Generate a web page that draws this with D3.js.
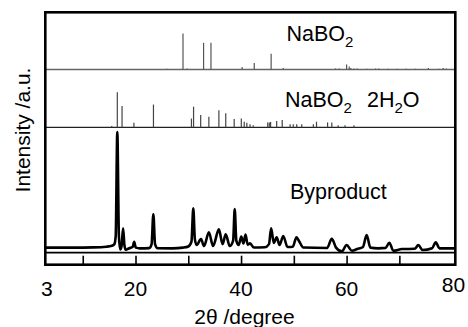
<!DOCTYPE html>
<html><head><meta charset="utf-8">
<script src="https://cdn.jsdelivr.net/npm/d3@7"></script>
<style>
html,body{margin:0;padding:0;background:#fff;}
svg{display:block;}
text{font-family:"Liberation Sans",Arial,sans-serif;fill:#000;}
</style></head>
<body>
<svg id="c" width="468" height="327"></svg>
<script>
// ---- data ----
const xTickMarks = [10, 20, 30, 40, 50, 60, 70];
const xTickLabels = [3, 20, 40, 60, 80];

const nabo2Pos = [25.9, 29.0, 29.8, 32.9, 34.3, 40.2, 42.5, 45.7, 48.0, 57.9, 58.6, 60.0, 60.5, 60.8, 61.4, 62.0, 63.8, 65.5, 66.1, 67.9, 69.6, 71.3, 73.0, 75.5, 77.5, 78.3, 78.9];
const nabo2Int = [2, 100, 3, 74, 74, 7, 18, 44, 4, 3, 3, 14, 8, 4, 3, 3, 2, 3, 3, 2, 2, 2, 2, 4, 2, 4, 3];

const hydPos = [15.5, 16.55, 17.45, 19.7, 23.4, 30.6, 31.0, 32.35, 33.9, 35.8, 37.1, 38.7, 40.05, 40.6, 41.1, 41.7, 42.3, 45.05, 45.35, 45.6, 46.75, 47.8, 49.3, 49.9, 50.55, 51.5, 53.7, 54.3, 56.4, 57.2, 58.4, 59.7, 61.4];
const hydInt = [4, 100, 61, 13, 65, 25, 59, 35, 30, 49, 40, 24, 25, 16, 13, 9, 6, 14, 14, 15, 18, 21, 9, 9, 9, 9, 9, 16, 14, 14, 6, 6, 6];

const byTheta = [3.0, 8.0, 12.0, 14.5, 15.5, 16.0, 16.25, 16.55, 16.85, 17.1, 17.35, 17.65, 17.9, 18.15, 18.8, 19.45, 19.75, 20.05, 20.8, 22.6, 23.05, 23.38, 23.7, 24.2, 27.0, 29.0, 30.0, 30.6, 30.95, 31.25, 31.6, 32.4, 33.0, 33.9, 34.7, 35.8, 36.5, 37.1, 37.85, 38.5, 38.8, 39.1, 39.55, 40.05, 40.45, 40.85, 41.25, 41.7, 42.4, 44.5, 45.3, 45.7, 46.2, 46.75, 47.3, 48.0, 48.8, 49.8, 50.5, 51.0, 51.8, 56.3, 57.2, 58.0, 59.1, 60.0, 61.0, 62.0, 63.1, 63.8, 64.5, 66.0, 67.4, 68.1, 68.85, 70.5, 72.9, 73.6, 74.4, 76.2, 76.9, 77.6, 80.6];
const byInt = [2.0, 2.0, 2.2, 2.8, 3.6, 5.0, 12, 100, 12, 0.5, 3, 18.4, 4, 0.2, 1.5, 2.5, 7.0, 2.0, 1.4, 1.6, 5, 30.3, 5, 1.5, 1.4, 2.0, 3.0, 7, 35.3, 9, 4.2, 9.3, 3.4, 15, 3.4, 17.5, 5, 13.3, 3.4, 8, 34.7, 8, 4.2, 11.5, 5.5, 13, 4.5, 5.7, 2.1, 2.3, 5, 18.4, 6, 10.8, 4.2, 11.9, 2.5, 2.7, 10.8, 7.5, 2.1, 1.7, 9.5, 2.0, -1.2, 4.2, -0.6, 0.8, 2.5, 12.7, 2.0, 1.4, 1.8, 6.2, -0.6, 0.8, 1.0, 4.2, 0, 1.5, 6.5, 1.4, 1.4];

// ---- drawing ----
const svg = d3.select("#c");
const x = d3.scaleLinear().domain([3, 80.6]).range([45.8, 455.3]);
const yNa = d3.scaleLinear().domain([0, 100]).range([69.5, 33.5]);
const yHyd = d3.scaleLinear().domain([0, 100]).range([127.3, 92.3]);
const yBy = d3.scaleLinear().domain([0, 100]).range([250, 132]);

// separator / baseline lines
svg.append("line").attr("x1", 45.3).attr("x2", 455.3).attr("y1", yNa(0)).attr("y2", yNa(0))
  .attr("stroke", "#666").attr("stroke-width", 1.4);
svg.append("line").attr("x1", 45.3).attr("x2", 455.3).attr("y1", yHyd(0)).attr("y2", yHyd(0))
  .attr("stroke", "#222").attr("stroke-width", 1.2);
svg.append("line").attr("x1", 45.3).attr("x2", 455.3).attr("y1", 252.6).attr("y2", 252.6)
  .attr("stroke", "#000").attr("stroke-width", 1.6);

// NaBO2 sticks
svg.append("g").selectAll("line").data(d3.zip(nabo2Pos, nabo2Int)).join("line")
  .attr("x1", d => x(d[0])).attr("x2", d => x(d[0]))
  .attr("y1", yNa(0)).attr("y2", d => yNa(d[1]))
  .attr("stroke", "#555").attr("stroke-width", 1.2);

// NaBO2·2H2O sticks
svg.append("g").selectAll("line").data(d3.zip(hydPos, hydInt)).join("line")
  .attr("x1", d => x(d[0])).attr("x2", d => x(d[0]))
  .attr("y1", yHyd(0)).attr("y2", d => yHyd(d[1]))
  .attr("stroke", "#444").attr("stroke-width", 1.2);

// Byproduct pattern
const line = d3.line().x(d => x(d[0])).y(d => yBy(d[1])).curve(d3.curveMonotoneX);
svg.append("path").datum(d3.zip(byTheta, byInt)).attr("d", line)
  .attr("fill", "none").attr("stroke", "#000").attr("stroke-width", 2.6)
  .attr("stroke-linejoin", "round");

// x ticks (inside, upward)
const axis = d3.axisBottom(x).tickValues(xTickMarks).tickSizeInner(-9).tickSizeOuter(0).tickFormat("");
const gAx = svg.append("g").attr("transform", "translate(0,264.7)").call(axis);
gAx.select(".domain").remove();
gAx.selectAll(".tick line").attr("stroke", "#000").attr("stroke-width", 1.6);

// frame
svg.append("rect").attr("x", 45.3).attr("y", 12.3).attr("width", 410).attr("height", 252.4)
  .attr("fill", "none").attr("stroke", "#000").attr("stroke-width", 2.6);

// tick labels
svg.append("g").selectAll("text").data(xTickLabels).join("text")
  .attr("x", d => d === 3 ? x(d) + 1 : (d === 80 ? x(d) + 1.3 : x(d)))
  .attr("y", d => d === 80 ? 292 : 296)
  .attr("text-anchor", "middle").attr("font-size", 21)
  .text(d => d);

// axis titles
svg.append("text").attr("x", 244.5).attr("y", 324).attr("text-anchor", "middle")
  .attr("font-size", 21).text("2θ /degree");
svg.append("text").attr("transform", "translate(29.5,130) rotate(-90)")
  .attr("text-anchor", "middle").attr("font-size", 21).text("Intensity /a.u.");

// panel labels
const t1 = svg.append("text").attr("x", 286.5).attr("y", 41).attr("font-size", 21.5);
t1.append("tspan").text("NaBO");
t1.append("tspan").attr("font-size", 15).attr("dy", 6).text("2");

const t2 = svg.append("text").attr("x", 285).attr("y", 106.7).attr("font-size", 21.5);
t2.append("tspan").text("NaBO");
t2.append("tspan").attr("font-size", 15).attr("dy", 6).text("2");
t2.append("tspan").attr("x", 367).attr("dy", -6).text("2H");
t2.append("tspan").attr("font-size", 15).attr("dy", 6).text("2");
t2.append("tspan").attr("dy", -6).text("O");

svg.append("text").attr("x", 290).attr("y", 199).attr("font-size", 21.5).text("Byproduct");
</script>
</body></html>
